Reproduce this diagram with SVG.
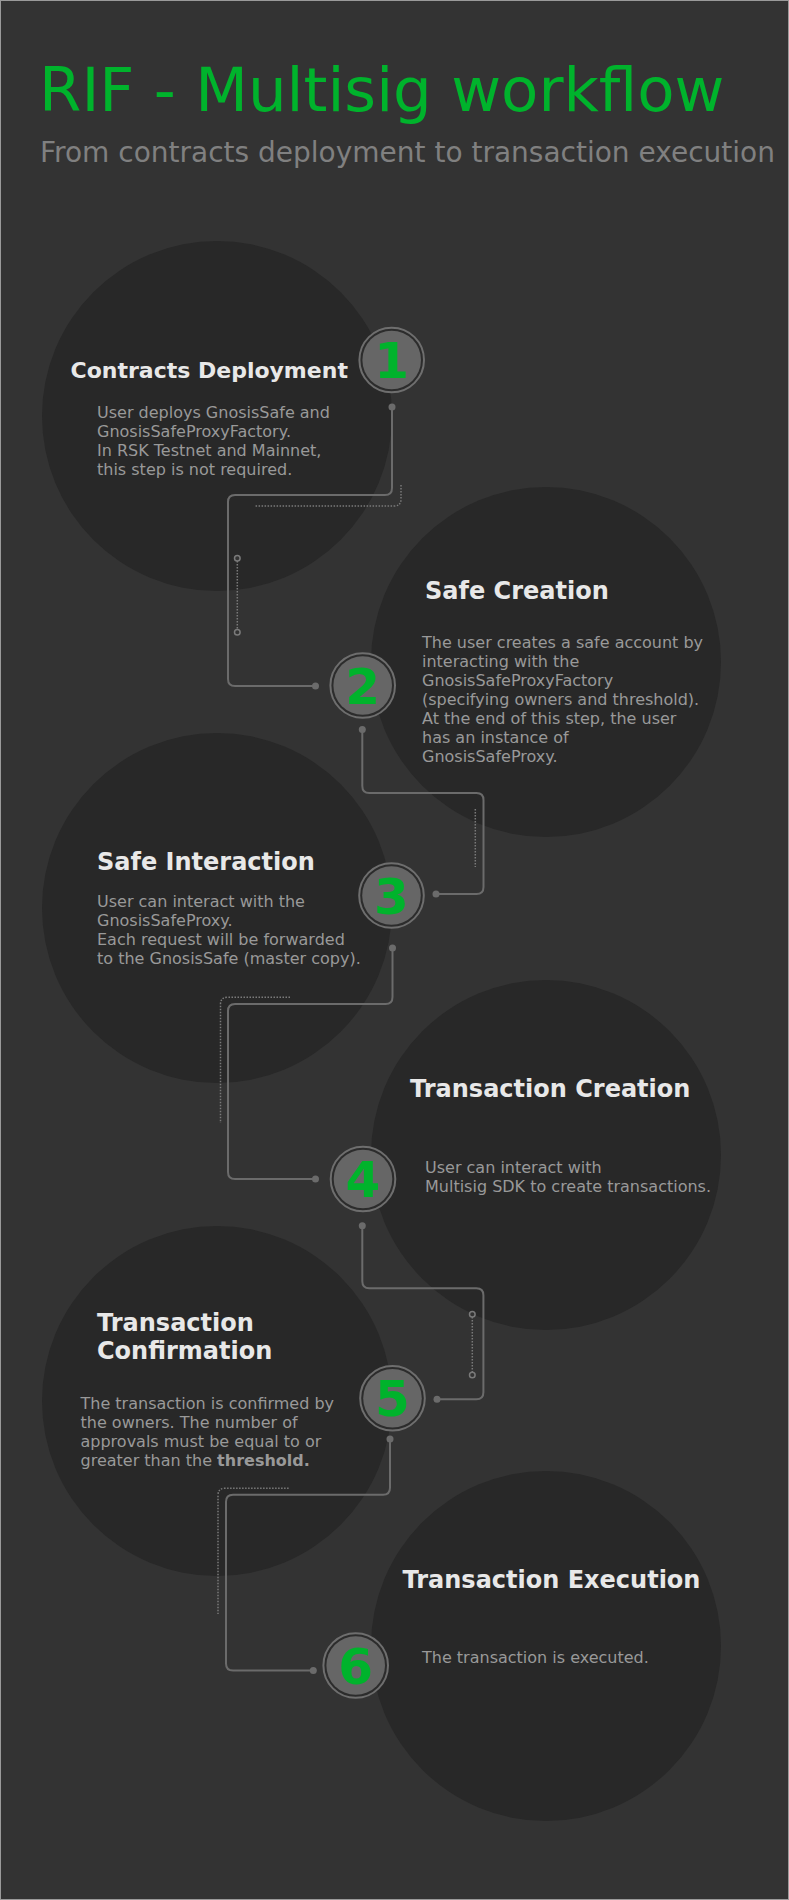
<svg xmlns="http://www.w3.org/2000/svg" width="789" height="1900" viewBox="0 0 789 1900">
<style>
.bg{fill:#333333;stroke:#9a9a9a;stroke-width:1}
.blob{fill:#282828}
.ring{fill:#2c2c2c;stroke:#6e6e6e;stroke-width:2}
.core{fill:#666666}
.num{font-family:"DejaVu Sans",Verdana,sans-serif;font-weight:bold;font-size:50px;fill:#00b32c;text-anchor:middle}
.ttl{font-family:"DejaVu Sans",Verdana,sans-serif;font-weight:bold;font-size:24px;fill:#e8e8e8}
.txt{font-family:"DejaVu Sans",Verdana,sans-serif;font-size:16px;fill:#999999}
.wire{fill:none;stroke:#6b6b6b;stroke-width:2}
.dot{fill:#6b6b6b}
.dots{fill:none;stroke:#7a7a7a;stroke-width:1.5;stroke-dasharray:1.5 1.5}
.hole{fill:#333333;stroke:#7a7a7a;stroke-width:1.5}
</style>
<rect class="bg" x="0.5" y="0.5" width="788" height="1899"/>
<g id="header">
<text x="39" y="111" style="font-family:'DejaVu Sans',Verdana,sans-serif;font-size:61px;fill:#00b32c">RIF - Multisig workflow</text>
<text x="40" y="162" style="font-family:'DejaVu Sans',Verdana,sans-serif;font-size:28px;fill:#808080">From contracts deployment to transaction execution</text>
</g>
<g id="backdrops">
<circle class="blob" cx="217" cy="416" r="175"/>
<circle class="blob" cx="546" cy="662" r="175"/>
<circle class="blob" cx="217" cy="908" r="175"/>
<circle class="blob" cx="546" cy="1155" r="175"/>
<circle class="blob" cx="217" cy="1401" r="175"/>
<circle class="blob" cx="546" cy="1646" r="175"/>
</g>
<g id="connectors">
<path class="wire" d="M392 407 V488 Q392 495 385 495 H235 Q228 495 228 502 V679 Q228 686 235 686 H315"/>
<circle class="dot" cx="392" cy="407" r="3.5"/>
<circle class="dot" cx="315.5" cy="686" r="3.5"/>
<path class="dots" d="M401 485 V499 Q401 506 394 506 H255"/>
<path class="dots" d="M237.3 561 V629.5"/>
<circle class="hole" cx="237.3" cy="558.3" r="2.8"/>
<circle class="hole" cx="237.3" cy="632.3" r="2.8"/>

<path class="wire" d="M362.3 729.5 V786 Q362.3 793 369.3 793 H476.5 Q483.5 793 483.5 800 V887 Q483.5 894 476.5 894 H436"/>
<circle class="dot" cx="362.3" cy="729.5" r="3.5"/>
<circle class="dot" cx="436" cy="894" r="3.5"/>
<path class="dots" d="M475.3 809 V867"/>

<path class="wire" d="M392.5 948 V997 Q392.5 1004 385.5 1004 H235 Q228 1004 228 1011 V1172 Q228 1179 235 1179 H315"/>
<circle class="dot" cx="392.5" cy="948" r="3.5"/>
<circle class="dot" cx="315.5" cy="1179" r="3.5"/>
<path class="dots" d="M290 997.3 H227.5 Q220.5 997.3 220.5 1004.3 V1123"/>

<path class="wire" d="M362.3 1225.7 V1281.3 Q362.3 1288.3 369.3 1288.3 H476.4 Q483.4 1288.3 483.4 1295.3 V1392.3 Q483.4 1399.3 476.4 1399.3 H437"/>
<circle class="dot" cx="362.3" cy="1225.7" r="3.5"/>
<circle class="dot" cx="437" cy="1399.3" r="3.5"/>
<path class="dots" d="M472.3 1317 V1372.3"/>
<circle class="hole" cx="472.3" cy="1314.3" r="2.8"/>
<circle class="hole" cx="472.3" cy="1375" r="2.8"/>

<path class="wire" d="M390 1439 V1487.7 Q390 1494.7 383 1494.7 H233 Q226 1494.7 226 1501.7 V1663.5 Q226 1670.5 233 1670.5 H313.3"/>
<circle class="dot" cx="390" cy="1439" r="3.5"/>
<circle class="dot" cx="313.3" cy="1670.5" r="3.5"/>
<path class="dots" d="M288.6 1488.3 H225 Q218 1488.3 218 1495.3 V1614"/>
</g>
<g id="step1">
<circle class="ring" cx="391.7" cy="360" r="32.3"/>
<circle class="core" cx="391.7" cy="360" r="29.3"/>
<text class="num" x="391.7" y="378">1</text>
<text class="ttl" x="70.5" y="378" style="font-size:22px">Contracts Deployment</text>
<text class="txt"><tspan x="97" y="418">User deploys GnosisSafe and</tspan><tspan x="97" y="437">GnosisSafeProxyFactory.</tspan><tspan x="97" y="456">In RSK Testnet and Mainnet,</tspan><tspan x="97" y="475">this step is not required.</tspan></text>
</g>
<g id="step2">
<circle class="ring" cx="362.7" cy="685.5" r="32.3"/>
<circle class="core" cx="362.7" cy="685.5" r="29.3"/>
<text class="num" x="362.7" y="703.5">2</text>
<text class="ttl" x="425" y="599">Safe Creation</text>
<text class="txt"><tspan x="422" y="648">The user creates a safe account by</tspan><tspan x="422" y="667">interacting with the</tspan><tspan x="422" y="686">GnosisSafeProxyFactory</tspan><tspan x="422" y="705">(specifying owners and threshold).</tspan><tspan x="422" y="724">At the end of this step, the user</tspan><tspan x="422" y="743">has an instance of</tspan><tspan x="422" y="762">GnosisSafeProxy.</tspan></text>
</g>
<g id="step3">
<circle class="ring" cx="391.5" cy="895.5" r="32.3"/>
<circle class="core" cx="391.5" cy="895.5" r="29.3"/>
<text class="num" x="391.5" y="913.5">3</text>
<text class="ttl" x="97" y="870">Safe Interaction</text>
<text class="txt"><tspan x="97" y="907">User can interact with the</tspan><tspan x="97" y="926">GnosisSafeProxy.</tspan><tspan x="97" y="945">Each request will be forwarded</tspan><tspan x="97" y="964">to the GnosisSafe (master copy).</tspan></text>
</g>
<g id="step4">
<circle class="ring" cx="363" cy="1179" r="32.3"/>
<circle class="core" cx="363" cy="1179" r="29.3"/>
<text class="num" x="363" y="1197">4</text>
<text class="ttl" x="410" y="1097">Transaction Creation</text>
<text class="txt"><tspan x="425" y="1173">User can interact with</tspan><tspan x="425" y="1192">Multisig SDK to create transactions.</tspan></text>
</g>
<g id="step5">
<circle class="ring" cx="392.5" cy="1398.3" r="32.3"/>
<circle class="core" cx="392.5" cy="1398.3" r="29.3"/>
<text class="num" x="392.5" y="1416.3">5</text>
<text class="ttl"><tspan x="97" y="1331">Transaction</tspan><tspan x="97" y="1359">Confirmation</tspan></text>
<text class="txt"><tspan x="80.5" y="1409">The transaction is confirmed by</tspan><tspan x="80.5" y="1428">the owners. The number of</tspan><tspan x="80.5" y="1447">approvals must be equal to or</tspan><tspan x="80.5" y="1466">greater than the <tspan font-weight="bold">threshold.</tspan></tspan></text>
</g>
<g id="step6">
<circle class="ring" cx="355.7" cy="1665.5" r="32.3"/>
<circle class="core" cx="355.7" cy="1665.5" r="29.3"/>
<text class="num" x="355.7" y="1683.5">6</text>
<text class="ttl" x="402.5" y="1588">Transaction Execution</text>
<text class="txt" x="422" y="1663">The transaction is executed.</text>
</g>
</svg>
